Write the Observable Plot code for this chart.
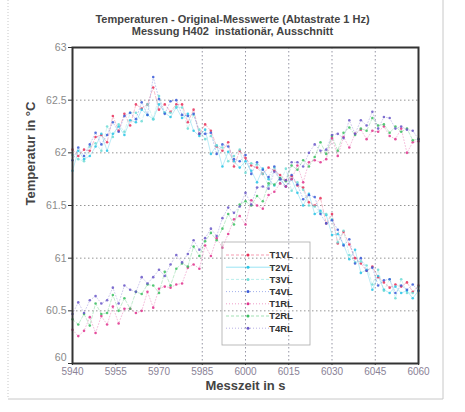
<!DOCTYPE html>
<html>
<head>
<meta charset="utf-8">
<script src="https://cdn.jsdelivr.net/npm/d3@7"></script>
<script src="https://cdn.jsdelivr.net/npm/@observablehq/plot@0.6"></script>
<style>
  body { margin: 0; background: #fff; }
  svg { display: block; }
</style>
</head>
<body>
<div id="chart"></div>
<script>
// Sample times (s), one reading every 2 s of the logged excerpt
const seconds = d3.range(5940, 6061, 2);

const seriesNames = ["T1VL", "T2VL", "T3VL", "T4VL", "T1RL", "T2RL", "T4RL"];

const t1vl = [62.03, 61.97, 62.03, 62.02, 62.15, 62.17, 62.10, 62.35, 62.21, 62.37,
  62.26, 62.46, 62.42, 62.46, 62.62, 62.41, 62.46, 62.39, 62.46, 62.46,
  62.29, 62.41, 62.18, 62.27, 62.21, 62.06, 62.02, 62.10, 61.87, 62.02,
  61.95, 61.88, 61.86, 61.80, 61.86, 61.83, 61.79, 61.74, 61.78, 61.69,
  61.67, 61.53, 61.50, 61.57, 61.33, 61.42, 61.14, 61.25, 61.13, 61.00,
  60.95, 60.88, 60.92, 60.82, 60.77, 60.72, 60.75, 60.73, 60.77, 60.68, 60.74];
const t2vl = [61.83, 62.02, 61.94, 61.97, 62.06, 62.18, 62.02, 62.18, 62.25, 62.17,
  62.31, 62.29, 62.41, 62.36, 62.32, 62.46, 62.38, 62.34, 62.43, 62.33,
  62.37, 62.21, 62.16, 62.22, 61.99, 62.07, 61.87, 62.01, 61.92, 61.86,
  61.92, 61.83, 61.72, 61.85, 61.75, 61.69, 61.76, 61.68, 61.75, 61.62,
  61.50, 61.61, 61.42, 61.45, 61.41, 61.22, 61.23, 61.13, 60.99, 61.08,
  60.86, 60.89, 60.70, 60.83, 60.70, 60.67, 60.73, 60.67, 60.69, 60.62, 60.69];
const t3vl = [61.98, 61.94, 61.92, 62.06, 62.09, 62.02, 62.25, 62.15, 62.27, 62.20,
  62.38, 62.38, 62.30, 62.46, 62.32, 62.54, 62.38, 62.38, 62.44, 62.43,
  62.23, 62.36, 62.22, 62.13, 62.16, 62.07, 62.05, 61.92, 61.97, 62.03,
  61.81, 61.90, 61.89, 61.80, 61.69, 61.86, 61.71, 61.85, 61.64, 61.72,
  61.65, 61.50, 61.49, 61.43, 61.42, 61.37, 61.15, 61.26, 61.03, 60.96,
  60.97, 60.93, 60.75, 60.89, 60.69, 60.80, 60.62, 60.80, 60.67, 60.67, 60.73];
const t4vl = [61.93, 62.05, 61.97, 62.08, 62.19, 62.08, 62.17, 62.29, 62.20, 62.35,
  62.38, 62.32, 62.48, 62.36, 62.72, 62.51, 62.37, 62.49, 62.50, 62.36,
  62.35, 62.37, 62.18, 62.18, 62.19, 61.99, 62.08, 62.06, 61.94, 61.92,
  61.98, 61.80, 61.91, 61.84, 61.77, 61.87, 61.75, 61.68, 61.79, 61.70,
  61.56, 61.60, 61.58, 61.42, 61.33, 61.36, 61.27, 61.12, 61.18, 60.95,
  61.00, 60.88, 60.91, 60.74, 60.79, 60.80, 60.67, 60.74, 60.70, 60.75, 60.69];
const t1rl = [60.32, 60.26, 60.31, 60.44, 60.29, 60.45, 60.37, 60.54, 60.38, 60.52,
  60.52, 60.48, 60.50, 60.68, 60.53, 60.71, 60.73, 60.72, 60.75, 60.76,
  60.91, 60.94, 60.90, 61.12, 61.02, 61.19, 61.10, 61.23, 61.37, 61.40,
  61.32, 61.55, 61.50, 61.47, 61.60, 61.63, 61.71, 61.68, 61.75, 61.88,
  61.72, 61.91, 61.93, 61.91, 61.94, 62.14, 61.97, 62.15, 62.05, 62.18,
  62.22, 62.13, 62.21, 62.20, 62.25, 62.16, 62.13, 62.23, 62.00, 62.10, 62.11];
const t2rl = [60.42, 60.37, 60.47, 60.36, 60.57, 60.47, 60.48, 60.65, 60.50, 60.62,
  60.52, 60.68, 60.66, 60.75, 60.74, 60.67, 60.87, 60.74, 60.90, 60.95,
  60.92, 61.11, 61.02, 61.16, 61.24, 61.17, 61.28, 61.42, 61.32, 61.51,
  61.54, 61.50, 61.59, 61.54, 61.71, 61.70, 61.76, 61.73, 61.88, 61.84,
  61.93, 61.87, 61.96, 62.10, 61.99, 62.16, 62.02, 62.19, 62.24, 62.17,
  62.23, 62.21, 62.33, 62.26, 62.27, 62.19, 62.25, 62.20, 62.23, 62.12, 62.13];
const t4rl = [60.47, 60.58, 60.48, 60.60, 60.64, 60.57, 60.60, 60.72, 60.57, 60.74,
  60.70, 60.68, 60.82, 60.76, 60.82, 60.89, 60.83, 60.94, 61.03, 60.96,
  61.04, 61.17, 61.08, 61.19, 61.28, 61.21, 61.38, 61.48, 61.43, 61.49,
  61.62, 61.51, 61.67, 61.68, 61.66, 61.82, 61.75, 61.74, 61.91, 61.91,
  61.87, 62.00, 62.08, 62.02, 62.03, 62.17, 62.18, 62.14, 62.31, 62.18,
  62.31, 62.26, 62.39, 62.23, 62.34, 62.33, 62.23, 62.25, 62.22, 62.21, 62.13];

const seriesValues = [t1vl, t2vl, t3vl, t4vl, t1rl, t2rl, t4rl];

const xTicks = [5940, 5955, 5970, 5985, 6000, 6015, 6030, 6045, 6060];
const xGridTicks = [5985, 6000, 6015, 6030, 6045];
const yTicks = [60, 60.5, 61, 61.5, 62, 62.5, 63];

const titleLines = [
  "Temperaturen - Original-Messwerte (Abtastrate 1 Hz)",
  "Messung H402  instationär, Ausschnitt"
];
const xLabel = "Messzeit in s";
const yLabel = "Temperatur in °C";

// Styling of the seven channels
const seriesColors = ["#e8305a", "#28c4e6", "#6edcd6", "#3a5ad8", "#e0348e", "#3cbf62", "#6a58c8"];
const seriesDash = ["3,2", null, "3,2", "1,2", "1,2", "3,2", "1,2"];

const rows = seriesNames.flatMap((name, i) =>
  seriesValues[i].map((v, j) => ({ name, t: seconds[j], v }))
);

const font = "'Liberation Sans', Arial, Helvetica, sans-serif";
const yMin = yTicks[0];

const chart = Plot.plot({
  width: 465,
  height: 412,
  marginLeft: 72,
  marginRight: 47,
  marginTop: 47,
  marginBottom: 49,
  style: { fontFamily: font, background: "#fff", overflow: "visible" },
  x: { domain: [5940, 6060] },
  y: { domain: [60, 63] },
  color: { domain: seriesNames, range: seriesColors },
  marks: [
    Plot.gridY(yTicks.slice(1, -1), { stroke: "#8a8a8a", strokeOpacity: 0.9, strokeDasharray: "1.5,2.5" }),
    Plot.gridX(xGridTicks, { stroke: "#8a8a9a", strokeOpacity: 0.9, strokeDasharray: "1.5,2.5" }),
    ...seriesNames.map((name, i) =>
      Plot.line(rows.filter(d => d.name === name), {
        x: "t", y: "v", stroke: seriesColors[i], strokeWidth: 0.7,
        strokeOpacity: 0.45, strokeDasharray: seriesDash[i]
      })
    ),
    Plot.dot(rows, { x: "t", y: "v", fill: "name", r: 1.3, fillOpacity: 0.85 }),
    Plot.frame({ stroke: "#333", strokeWidth: 2 }),
    Plot.axisX(xTicks, {
      tickFormat: "d", tickSize: 2, tickPadding: 2, fontSize: 10,
      stroke: "#333", fill: "#8a8296", label: null
    }),
    // the lowest label sits a little higher, clear of the first time label
    Plot.axisY(yTicks, {
      tickFormat: d => (d === yMin ? "" : String(d)), tickSize: 4, tickPadding: 2, fontSize: 10.5,
      stroke: "#333", fill: "#8a8a8a", label: null
    }),
    Plot.axisY([yMin], {
      tickFormat: d => String(d), tickSize: 0, tickPadding: 6, dy: -6, fontSize: 10.5,
      fill: "#8a8a8a", label: null
    }),
    Plot.text([titleLines[0]], {
      frameAnchor: "top-left", dx: 160, dy: -32, textAnchor: "middle",
      fontSize: 11, fontWeight: "bold", fill: "#444"
    }),
    Plot.text([titleLines[1]], {
      frameAnchor: "top-left", dx: 160, dy: -20, textAnchor: "middle",
      fontSize: 11, fontWeight: "bold", fill: "#444"
    }),
    Plot.text([xLabel], {
      frameAnchor: "bottom", dy: 26, fontSize: 13, fontWeight: "bold", fill: "#444"
    }),
    Plot.text([yLabel], {
      frameAnchor: "left", dx: -42, rotate: -90, fontSize: 13, fontWeight: "bold", fill: "#444"
    })
  ]
});

document.getElementById("chart").appendChild(chart);

// Legend box inside the plot area
const svg = d3.select(chart);
const legend = svg.append("g").attr("font-family", font);
legend.append("rect")
  .attr("x", 222).attr("y", 242).attr("width", 88).attr("height", 103)
  .attr("fill", "none").attr("stroke", "#aaa").attr("stroke-width", 0.8);
seriesNames.forEach((name, i) => {
  const y = 255 + i * 12.2;
  legend.append("line")
    .attr("x1", 226).attr("x2", 272).attr("y1", y).attr("y2", y)
    .attr("stroke", seriesColors[i]).attr("stroke-width", 0.8)
    .attr("stroke-opacity", 0.6).attr("stroke-dasharray", seriesDash[i] || null);
  legend.append("circle")
    .attr("cx", 248).attr("cy", y).attr("r", 1.5).attr("fill", seriesColors[i]);
  legend.append("text")
    .attr("x", 281).attr("y", y).attr("dy", "0.35em")
    .attr("font-size", 9.5).attr("font-weight", "bold").attr("fill", "#333")
    .text(name);
});

// Page border around the figure
const border = svg.append("g").attr("stroke", "#c8c8c8").attr("fill", "none");
border.append("line").attr("x1", 8).attr("x2", 8).attr("y1", 0).attr("y2", 399)
  .attr("stroke-dasharray", "1,2");
border.append("line").attr("x1", 443).attr("x2", 443).attr("y1", 0).attr("y2", 399);
border.append("line").attr("x1", 8).attr("x2", 443).attr("y1", 399).attr("y2", 399);
</script>
</body>
</html>
